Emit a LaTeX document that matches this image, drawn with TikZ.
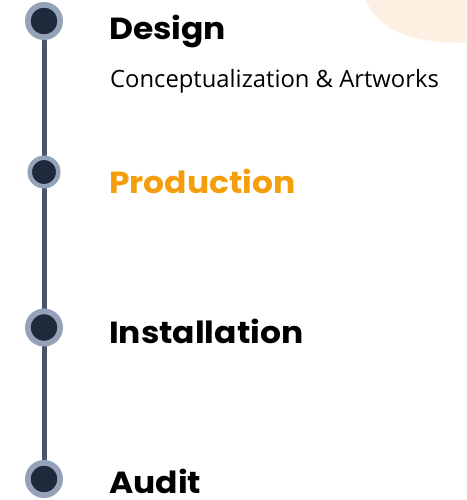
\documentclass[tikz,border=0pt]{standalone}
\usepackage{fontspec}
\setmainfont{Open Sans}
\newfontfamily\headfont{Poppins}[UprightFont=* Bold, FakeStretch=1.08]
\usetikzlibrary{backgrounds}
\definecolor{dotfill}{HTML}{1E293B}
\definecolor{dotring}{HTML}{94A3B8}
\definecolor{railcol}{HTML}{4A5568}
\definecolor{accent}{HTML}{F59E0B}
\definecolor{blobcol}{HTML}{FDF0E3}
\tikzset{
  dot/.style={circle, fill=dotfill, draw=dotring, line width=5.7pt, minimum size=32.3pt, inner sep=0pt},
  smalldot/.style={dot, line width=4.5pt, minimum size=28.5pt},
  head/.style={anchor=base west, inner sep=0pt, font=\headfont\fontsize{30.5}{36}\selectfont},
  sub/.style={anchor=base west, inner sep=0pt, font=\fontsize{23.8}{28}\selectfont}
}
\begin{document}
\begin{tikzpicture}[x=1pt, y=-1pt]
\useasboundingbox (0,0) rectangle (466,500);
\fill[blobcol] (366,0) .. controls (378,30) and (410,43) .. (466,43) -- (466,0) -- cycle;
\node[dot] (c1) at (44,21) {};
\node[smalldot] (c2) at (44,172) {};
\node[dot] (c3) at (44,327.5) {};
\node[dot] (c4) at (44,479) {};
\begin{scope}[on background layer]
\draw[railcol, line width=5pt] (c1.center) -- (c4.center);
\end{scope}
\node[head] (t1) at (109,39.5) {Design};
\node[sub] (s1) at (110,88) {Conceptualization \& Artworks};
\node[head, text=accent] (t2) at (109,193.5) {Production};
\node[head] (t3) at (109,343.5) {Installation};
\node[head] (t4) at (109,493.5) {Audit};
\end{tikzpicture}
\end{document}
